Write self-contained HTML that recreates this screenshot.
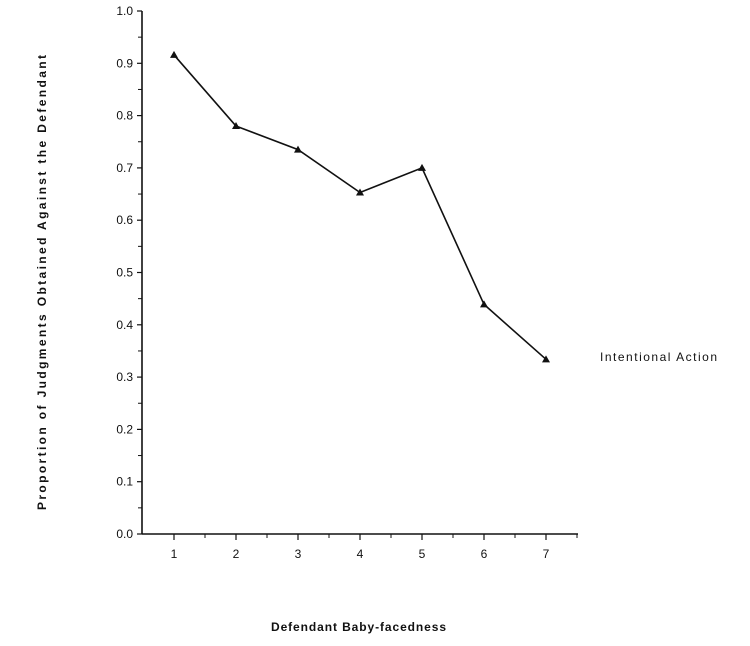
<!DOCTYPE html>
<html><head><meta charset="utf-8"><style>
body{margin:0;background:#fff;width:750px;height:641px;overflow:hidden}
text{font-family:"Liberation Sans",Arial,sans-serif;fill:#111}
</style></head><body>
<svg width="750" height="641">
<g id="g"></g>
<text x="600" y="361" font-size="12" textLength="117" lengthAdjust="spacing">Intentional Action</text>
<text x="271" y="631" font-size="12" font-weight="bold" textLength="175" lengthAdjust="spacing">Defendant Baby-facedness</text>
<text transform="translate(46,510) rotate(-90)" font-size="12" font-weight="bold" textLength="455" lengthAdjust="spacing">Proportion of Judgments Obtained Against the Defendant</text>
</svg>
<script>
const categories=[1,2,3,4,5,6,7];
const values=[0.916,0.78,0.735,0.653,0.70,0.439,0.334];
const yTicks=["0.0","0.1","0.2","0.3","0.4","0.5","0.6","0.7","0.8","0.9","1.0"];
const NS="http://www.w3.org/2000/svg";
const g=document.getElementById('g');
const x0=142,y0=534,yTop=11;
const X=c=>174+(c-1)*62;
const Y=v=>y0-v*(y0-yTop);
function mk(t,a){const e=document.createElementNS(NS,t);for(const k in a)e.setAttribute(k,a[k]);g.appendChild(e);return e;}
let e=mk('line',{x1:x0,y1:y0,x2:578,y2:y0,stroke:'#111','stroke-width':1.6});


e=mk('line',{x1:x0,y1:y0,x2:x0,y2:yTop,stroke:'#111','stroke-width':1.6});


yTicks.forEach((t,i)=>{const v=i/10;
 mk('line',{x1:x0-5,y1:Y(v),x2:x0,y2:Y(v),stroke:'#111','stroke-width':1.2});
 if(i<10)mk('line',{x1:x0-4,y1:Y(v+0.05),x2:x0,y2:Y(v+0.05),stroke:'#111','stroke-width':1});
 const tx=mk('text',{x:x0-9,y:Y(v)+4,'font-size':12,'text-anchor':'end'});tx.textContent=t;
 
 
});
categories.forEach(c=>{
 mk('line',{x1:X(c),y1:y0,x2:X(c),y2:y0+6,stroke:'#111','stroke-width':1.2});
 mk('line',{x1:X(c)+31,y1:y0,x2:X(c)+31,y2:y0+4,stroke:'#111','stroke-width':1});
 const tx=mk('text',{x:X(c),y:y0+24,'font-size':12,'text-anchor':'middle'});tx.textContent=c;
 
 
});
e=mk('polyline',{points:categories.map((c,i)=>X(c)+','+Y(values[i])).join(' '),fill:'none',stroke:'#111','stroke-width':1.6});


categories.forEach((c,i)=>{const x=X(c),y=Y(values[i]);
 const p=mk('polygon',{points:`${x},${y-4} ${x-4},${y+3} ${x+4},${y+3}`,fill:'#111'});
 
 
});
</script>
</body></html>
